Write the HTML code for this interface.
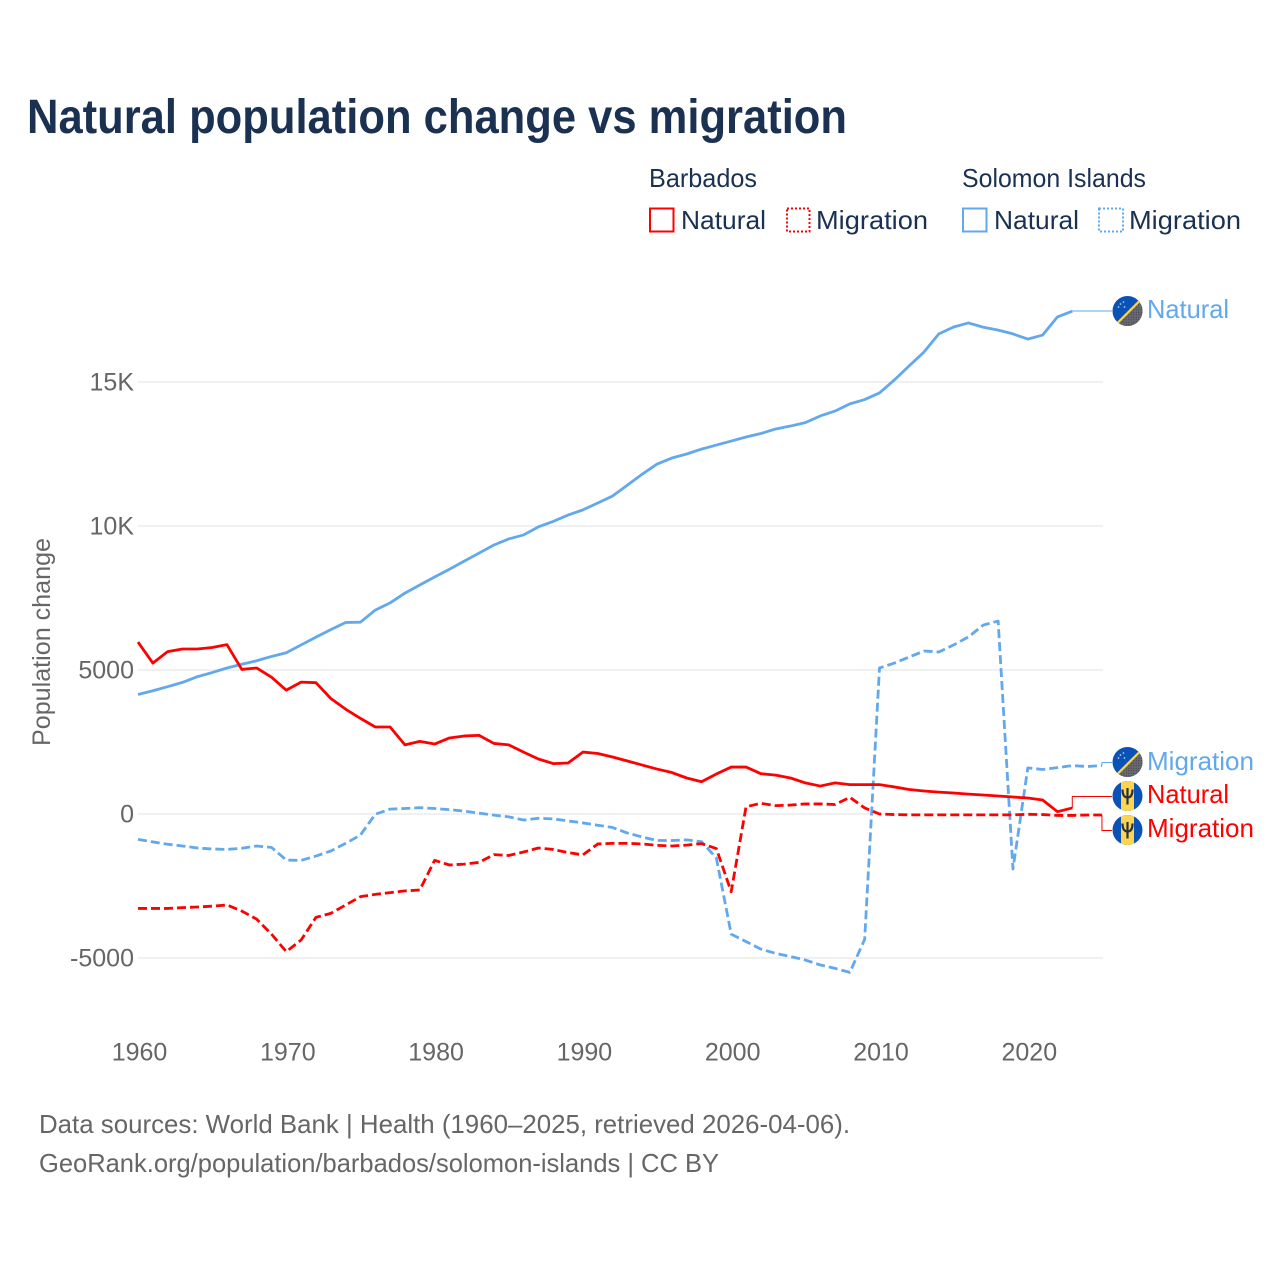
<!DOCTYPE html>
<html lang="en">
<head>
<meta charset="utf-8">
<title>Natural population change vs migration</title>
<style>
html,body{margin:0;padding:0;background:#fff;}
svg{display:block;}
text{font-family:"Liberation Sans",sans-serif;}
</style>
</head>
<body>
<svg id="chart" xmlns="http://www.w3.org/2000/svg" width="1280" height="1280" viewBox="0 0 1280 1280">
  <defs>
    <clipPath id="flag-clip"><circle cx="0" cy="0" r="15"/></clipPath>
    <pattern id="grey-dots" width="2.5" height="2.5" patternUnits="userSpaceOnUse">
      <rect width="2.5" height="2.5" fill="#686a70"/>
      <circle cx="1.25" cy="1.25" r="0.55" fill="#34363c"/>
    </pattern>
    <g id="flag-solomon" clip-path="url(#flag-clip)">
      <rect x="-15" y="-15" width="30" height="30" fill="#0a52b5"/>
      <polygon points="15,-15 15,15 -15,15" fill="url(#grey-dots)"/>
      <line x1="-13" y1="15" x2="15" y2="-13" stroke="#fcd44f" stroke-width="2.2"/>
      <g fill="#a9c8ee">
        <circle cx="-7" cy="-7" r="0.9"/><circle cx="-4" cy="-9" r="0.9"/><circle cx="-9" cy="-4" r="0.9"/><circle cx="-3" cy="-4" r="0.9"/>
      </g>
    </g>
    <g id="flag-barbados" clip-path="url(#flag-clip)">
      <rect x="-15" y="-15" width="30" height="30" fill="#0a52b5"/>
      <rect x="-6.500" y="-15" width="13" height="30" fill="#fcd44f"/>
      <path d="M-5,-6.500 C-5,-1 -3,1.500 0,1.500 C3,1.500 5,-1 5,-6.500 M0,-8 L0,8.500" fill="none" stroke="#27303f" stroke-width="2.200"/>
    </g>
  </defs>

  <rect x="0" y="0" width="1280" height="1280" fill="#ffffff"/>

  <text x="27" y="133" font-size="48" font-weight="700" fill="#1a3152" textLength="820" lengthAdjust="spacingAndGlyphs">Natural population change vs migration</text>

  <g font-size="26" fill="#1a3152">
    <text x="649" y="187" textLength="108" lengthAdjust="spacingAndGlyphs">Barbados</text>
    <text x="962" y="187" textLength="184" lengthAdjust="spacingAndGlyphs">Solomon Islands</text>
    <g>
      <rect x="650" y="208.5" width="23.5" height="23" fill="none" stroke="#ff0000" stroke-width="2"/>
      <text x="681" y="229" textLength="85" lengthAdjust="spacingAndGlyphs">Natural</text>
    </g>
    <g>
      <rect x="787" y="208.5" width="22.5" height="23" fill="none" stroke="#ff0000" stroke-width="2" stroke-dasharray="2 2"/>
      <text x="816" y="229" textLength="112" lengthAdjust="spacingAndGlyphs">Migration</text>
    </g>
    <g>
      <rect x="963" y="208.5" width="23.5" height="23" fill="none" stroke="#62a8ec" stroke-width="2"/>
      <text x="994" y="229" textLength="85" lengthAdjust="spacingAndGlyphs">Natural</text>
    </g>
    <g>
      <rect x="1099" y="208.5" width="24" height="23" fill="none" stroke="#62a8ec" stroke-width="2" stroke-dasharray="2 2"/>
      <text x="1129" y="229" textLength="112" lengthAdjust="spacingAndGlyphs">Migration</text>
    </g>
  </g>

  <g id="grid"></g>
  <g id="y-ticks"></g>
  <g id="x-ticks"></g>

  <text transform="translate(50,642) rotate(-90)" text-anchor="middle" font-size="25" fill="#666666" textLength="208" lengthAdjust="spacingAndGlyphs">Population change</text>

  <g id="series"></g>
  <g id="leaders"></g>

  <g font-size="26">
    <use href="#flag-solomon" x="1127.5" y="311"/>
    <text x="1147" y="318" fill="#62a8ec" textLength="82" lengthAdjust="spacingAndGlyphs">Natural</text>
    <use href="#flag-solomon" x="1127.5" y="762"/>
    <text x="1147" y="770" fill="#62a8ec" textLength="107" lengthAdjust="spacingAndGlyphs">Migration</text>
    <use href="#flag-barbados" x="1127.5" y="796"/>
    <text x="1147" y="803" fill="#ff0000" textLength="82" lengthAdjust="spacingAndGlyphs">Natural</text>
    <use href="#flag-barbados" x="1127.5" y="830"/>
    <text x="1147" y="837" fill="#ff0000" textLength="107" lengthAdjust="spacingAndGlyphs">Migration</text>
  </g>

  <g font-size="26" fill="#666666">
    <text x="39" y="1133" textLength="811" lengthAdjust="spacingAndGlyphs">Data sources: World Bank | Health (1960–2025, retrieved 2026-04-06).</text>
    <text x="39" y="1172" textLength="680" lengthAdjust="spacingAndGlyphs">GeoRank.org/population/barbados/solomon-islands | CC BY</text>
  </g>
</svg>
<script>
const startYear = 1960;
const xTickYears = [1960, 1970, 1980, 1990, 2000, 2010, 2020];
const yTickValues = [15000, 10000, 5000, 0, -5000];
const yTickLabels = ["15K", "10K", "5000", "0", "-5000"];

const solomonNatural = [4150,4280,4420,4570,4767,4910,5070,5200,5320,5470,5600,5870,6140,6400,6650,6660,7080,7330,7670,7950,8230,8500,8780,9060,9340,9550,9690,9970,10160,10380,10560,10800,11040,11420,11800,12150,12360,12500,12670,12810,12950,13090,13210,13370,13470,13590,13820,13990,14240,14390,14620,15070,15560,16040,16670,16910,17050,16900,16800,16670,16490,16630,17260,17460];
const solomonMigration = [-880,-970,-1050,-1110,-1180,-1215,-1230,-1190,-1110,-1160,-1600,-1610,-1460,-1285,-1020,-730,-10,170,190,220,190,150,100,30,-40,-100,-210,-150,-170,-240,-310,-390,-470,-660,-800,-920,-920,-900,-960,-1530,-4170,-4430,-4690,-4840,-4950,-5070,-5240,-5360,-5500,-4350,5070,5240,5450,5660,5625,5870,6150,6560,6700,-1910,1600,1545,1610,1680,1650,1680];
const barbadosNatural = [5970,5240,5640,5730,5730,5780,5880,5020,5070,4750,4300,4580,4560,4010,3640,3320,3020,3020,2400,2520,2430,2640,2710,2730,2450,2400,2150,1910,1750,1770,2150,2100,1980,1840,1700,1560,1440,1250,1120,1390,1630,1630,1400,1350,1250,1080,970,1080,1020,1020,1020,940,850,800,760,730,690,660,625,590,555,485,80,210];
const barbadosMigration = [-3280,-3280,-3280,-3250,-3230,-3200,-3160,-3370,-3650,-4170,-4780,-4375,-3590,-3450,-3160,-2870,-2790,-2730,-2670,-2640,-1610,-1770,-1740,-1680,-1410,-1440,-1320,-1180,-1230,-1340,-1420,-1040,-1020,-1020,-1040,-1090,-1110,-1080,-1030,-1200,-2700,250,370,290,310,350,350,330,580,210,0,-20,-30,-30,-30,-30,-30,-30,-30,-30,-10,-20,-50,-50,-35,-35];

const RED = "#ff0000";
const BLUE = "#62a8ec";
const NS = "http://www.w3.org/2000/svg";

function xScale(year) { return 138 + (year - startYear) * 14.83; }
function yScale(value) { return 814 - value * 0.0288; }
function make(tag, attrs, parent) {
  const el = document.createElementNS(NS, tag);
  for (const k in attrs) el.setAttribute(k, attrs[k]);
  parent.appendChild(el);
  return el;
}

const gridG = document.getElementById("grid");
const yG = document.getElementById("y-ticks");
const xG = document.getElementById("x-ticks");
const seriesG = document.getElementById("series");
const leadG = document.getElementById("leaders");

yTickValues.forEach(function (v, i) {
  const line = make("line", {x1: 138, x2: 1103, y1: yScale(v), y2: yScale(v), stroke: "#ececec", "stroke-width": 1.5}, gridG);
  
  
  const label = make("text", {x: 134, y: yScale(v) + 8.5, "text-anchor": "end", "font-size": 25, fill: "#666666"}, yG);
  
  
  label.textContent = yTickLabels[i];
});

xTickYears.forEach(function (year) {
  const label = make("text", {x: xScale(year) + 1.5, y: 1060.5, "text-anchor": "middle", "font-size": 25, fill: "#666666"}, xG);
  
  
  label.textContent = String(year);
});

function pointsOf(values) {
  return values.map(function (v, i) {
    return xScale(startYear + i).toFixed(2) + "," + yScale(v).toFixed(2);
  }).join(" ");
}

const solomonNaturalLine = make("polyline", {points: pointsOf(solomonNatural), fill: "none", stroke: BLUE, "stroke-width": 2.8, "stroke-linejoin": "round"}, seriesG);



const solomonMigrationLine = make("polyline", {points: pointsOf(solomonMigration), fill: "none", stroke: BLUE, "stroke-width": 2.8, "stroke-dasharray": "9 4", "stroke-linejoin": "round"}, seriesG);



const barbadosNaturalLine = make("polyline", {points: pointsOf(barbadosNatural), fill: "none", stroke: RED, "stroke-width": 2.8, "stroke-linejoin": "round"}, seriesG);



const barbadosMigrationLine = make("polyline", {points: pointsOf(barbadosMigration), fill: "none", stroke: RED, "stroke-width": 2.8, "stroke-dasharray": "9 4", "stroke-linejoin": "round"}, seriesG);



function leaderPath(values, labelY) {
  const x = xScale(startYear + values.length - 1);
  const y = yScale(values[values.length - 1]);
  return "M" + x.toFixed(2) + "," + y.toFixed(2) + " L" + x.toFixed(2) + "," + labelY + " L1112," + labelY;
}

const leadSN = make("path", {d: leaderPath(solomonNatural, 311), fill: "none", stroke: BLUE, "stroke-width": 1}, leadG);



const leadSM = make("path", {d: leaderPath(solomonMigration, 762.5), fill: "none", stroke: BLUE, "stroke-width": 1}, leadG);



const leadBN = make("path", {d: leaderPath(barbadosNatural, 796.5), fill: "none", stroke: RED, "stroke-width": 1}, leadG);



const leadBM = make("path", {d: leaderPath(barbadosMigration, 830.5), fill: "none", stroke: RED, "stroke-width": 1}, leadG);


</script>
</body>
</html>
